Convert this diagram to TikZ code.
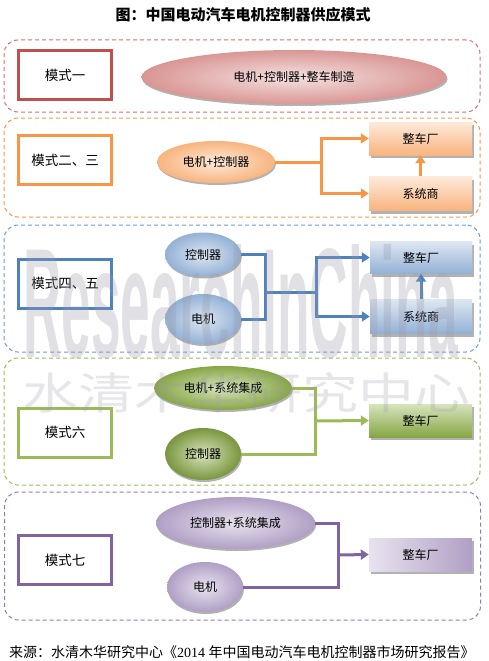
\documentclass[tikz,border=0pt]{standalone}
\usepackage{fontspec}
\setmainfont{Noto Sans CJK SC}
\newfontfamily\serifnum{Liberation Serif}
\newfontfamily\wmfont{Liberation Sans}
\usetikzlibrary{shadows,arrows.meta,shapes.geometric}
\definecolor{cR}{HTML}{C0504D}\definecolor{cRl}{HTML}{F4E2E1}\definecolor{cRd}{HTML}{D99694}
\definecolor{cO}{HTML}{F79646}\definecolor{cOl}{HTML}{FDEADB}\definecolor{cOd}{HTML}{F8B47E}
\definecolor{cB}{HTML}{4F81BD}\definecolor{cBl}{HTML}{DDE7F2}\definecolor{cBd}{HTML}{93B1D6}
\definecolor{cG}{HTML}{9BBB59}\definecolor{cGl}{HTML}{D7E4BD}\definecolor{cGd}{HTML}{86A644}
\definecolor{cP}{HTML}{8064A2}\definecolor{cPl}{HTML}{E8E3EF}\definecolor{cPd}{HTML}{B09FC5}
\definecolor{wm}{HTML}{9A9AAA}
\begin{document}
\begin{tikzpicture}[x=1pt,y=-1pt,
  grp/.style={draw, line width=1pt, dash pattern=on 4pt off 3pt, rounded corners=14pt, inner sep=0pt, minimum width=476pt},
  modebox/.style={draw, line width=3pt, fill=white, minimum width=93pt, minimum height=49pt, inner sep=0pt, font=\fontsize{13.5}{16}\selectfont},
  oval/.style={ellipse, inner sep=0pt, font=\fontsize{12}{14}\selectfont,
    drop shadow={shadow xshift=1pt, shadow yshift=-2pt, fill=black, opacity=0.3}},
  tgt/.style={rectangle, inner sep=0pt, minimum width=103pt, font=\fontsize{12}{14}\selectfont,
    drop shadow={shadow xshift=2pt, shadow yshift=-3pt, fill=black, opacity=0.3}},
  conn/.style={line width=3pt},
  arr/.style={-{Triangle[length=8pt,width=10pt]}},
  arrs/.style={{Triangle[length=8pt,width=10pt]}-{Triangle[length=8pt,width=10pt]}}
]
\useasboundingbox (0,0) rectangle (488,661);

\node[font=\fontsize{15}{18}\selectfont\bfseries] (title) at (243,15) {图：中国电动汽车电机控制器供应模式};

% group frames
\node[grp, draw=cR!80, minimum height=72pt] (g1) at (242,76) {};
\node[grp, draw=cO, minimum height=99pt] (g2) at (242,167.5) {};
\node[grp, draw=cB!80, minimum height=127pt] (g3) at (242,288.5) {};
\node[grp, draw=cG, minimum height=127pt] (g4) at (242,421.5) {};
\node[grp, draw=cP!85, minimum height=128pt] (g5) at (242.5,556) {};

% mode boxes
\node[modebox, draw=cR] (m1) at (65,75) {模式一};
\node[modebox, draw=cO] (m2) at (65,160) {模式二、三};
\node[modebox, draw=cB] (m3) at (65,283.5) {模式四、五};
\node[modebox, draw=cG] (m4) at (65,432.5) {模式六};
\node[modebox, draw=cP] (m5) at (65,560) {模式七};

% group 1
\node[oval, inner color=cRl, outer color=cRd, minimum width=305pt, minimum height=54pt] (e1) at (294,77) {电机+控制器+整车制造};

% group 2
\node[oval, inner color=cOl, outer color=cOd, minimum width=118pt, minimum height=42pt] (e2) at (216,162) {电机+控制器};
\node[tgt, top color=cOl, bottom color=cOd, minimum height=33pt] (r2a) at (420.5,138.5) {整车厂};
\node[tgt, top color=cOl, bottom color=cOd, minimum height=34pt] (r2b) at (420.5,193.5) {系统商};
\coordinate (j2) at (321,162);
\draw[conn, cO] (e2.east) -- (j2);
\draw[conn, cO, arrs] (r2a.west) -| (j2) |- (r2b.west);
\draw[conn, cO, arr] (r2b.north) -- (r2a.south);

% group 3
\node[oval, inner color=cBl, outer color=cBd, minimum width=76pt, minimum height=44pt] (e3a) at (203,254.5) {控制器};
\node[oval, inner color=cBl, outer color=cBd, minimum width=76pt, minimum height=50pt] (e3b) at (203,319) {电机};
\node[tgt, top color=cBl, bottom color=cBd, minimum width=102pt, minimum height=32pt] (r3a) at (421,257.5) {整车厂};
\node[tgt, top color=cBl, bottom color=cBd, minimum width=102pt, minimum height=34pt] (r3b) at (421,316.5) {系统商};
\coordinate (j3a) at (265,292.5);
\coordinate (j3b) at (316,292.5);
\draw[conn, cB] (e3a.east) -| (j3a) |- (e3b.east);
\draw[conn, cB] (j3a) -- (j3b);
\draw[conn, cB, arrs] (r3a.west) -| (j3b) |- (r3b.west);
\draw[conn, cB, arr] (r3b.north) -- (r3a.south);

% group 4
\node[oval, inner color=cGl, outer color=cGd, minimum width=138pt, minimum height=44pt] (e4a) at (223,388) {电机+系统集成};
\node[oval, inner color=cGl, outer color=cGd!90!black, minimum width=76pt, minimum height=52pt] (e4b) at (203,454) {控制器};
\node[tgt, top color=cGl, bottom color=cGd, minimum height=33pt] (r4) at (420.5,420.5) {整车厂};
\coordinate (j4) at (315,421);
\draw[conn, cG] (e4a.east) -| (j4) |- (e4b.east);
\draw[conn, cG, arr] (j4) -- (r4.west);

% group 5
\node[oval, inner color=cPl, outer color=cPd, minimum width=159pt, minimum height=52pt] (e5a) at (235.5,523) {控制器+系统集成};
\node[oval, inner color=cPl, outer color=cPd, minimum width=76pt, minimum height=50pt] (e5b) at (205,587) {电机};
\node[tgt, left color=cPl, right color=cPd, minimum height=33pt] (r5) at (420.5,554.5) {整车厂};
\coordinate (j5) at (338,555);
\draw[conn, cP] (e5a.east) -| (j5) |- (e5b.east);
\draw[conn, cP, arr] (j5) -- (r5.west);

% watermarks
\node[anchor=base west, font=\fontsize{156}{156}\selectfont\wmfont\bfseries, xscale=0.341, text=wm, opacity=0.3, inner sep=0pt] (wm1) at (23,357) {ResearchInChina};
\node[font=\fontsize{56}{56}\selectfont, yscale=0.78, text=wm, opacity=0.25, inner sep=0pt] (wm2) at (246,393) {水清木华研究中心};

% source
\node[anchor=west, font=\fontsize{14}{16}\selectfont, inner sep=0pt] (src) at (9,652) {来源：水清木华研究中心《{\serifnum 2014 }年中国电动汽车电机控制器市场研究报告》};
\end{tikzpicture}
\end{document}
